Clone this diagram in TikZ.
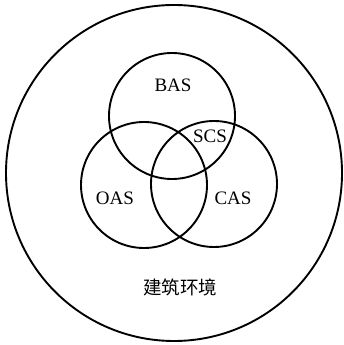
\documentclass[tikz,border=0pt]{standalone}
\usepackage{fontspec}
\setmainfont{Liberation Serif}
\newfontfamily\cjkfont{Noto Sans CJK SC}
\usepackage{tikz}
\usetikzlibrary{positioning}

\begin{document}
\begin{tikzpicture}[
  x=1pt, y=1pt,
  ring/.style={draw, circle, line width=1.9pt, minimum size=126pt, inner sep=0pt},
  outer/.style={draw, circle, line width=1.9pt, minimum size=336pt, inner sep=0pt},
  lbl/.style={font=\fontsize{19}{22}\selectfont, inner sep=1pt}
]
  \useasboundingbox (0,0) rectangle (343,345);
  \node[outer] (env) at (174,172) {};
  \node[ring] (bas) at (172,229) {};
  \node[ring] (oas) at (144,160) {};
  \node[ring] (cas) at (214,161) {};

  \node[lbl] (baslbl) at (173,260) {BAS};
  \node[lbl] (scslbl) at (210,209) {SCS};
  \node[lbl] (oaslbl) at (115,147) {OAS};
  \node[lbl] (caslbl) at (233,147) {CAS};
  \node[lbl, font=\cjkfont\fontsize{18.5}{22}\selectfont] (envlbl) at (180,58) {建筑环境};
\end{tikzpicture}
\end{document}
